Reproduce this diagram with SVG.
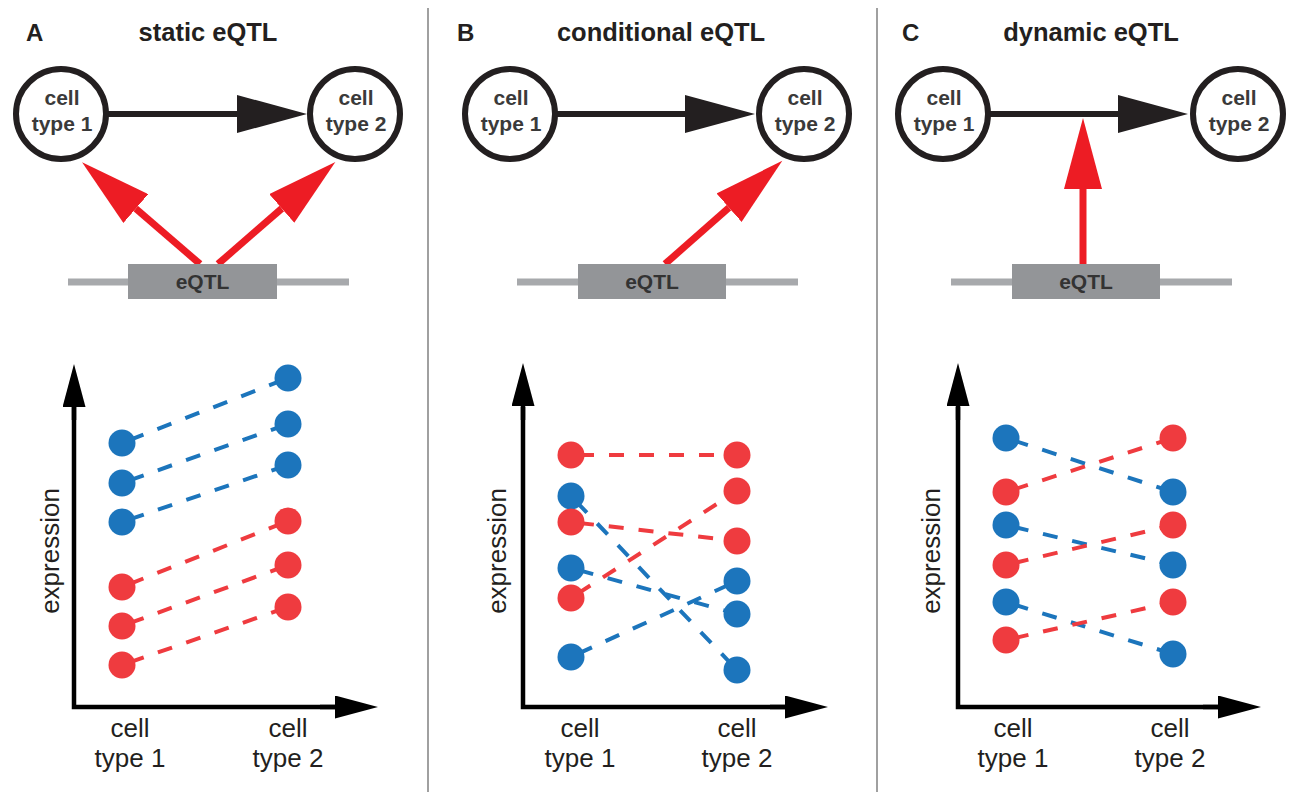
<svg xmlns="http://www.w3.org/2000/svg" width="1301" height="800" viewBox="0 0 1301 800">
<defs>
<style>
.bg{fill:#ffffff}
.title{font-family:"Liberation Sans",Arial,sans-serif;font-weight:bold;font-size:25.5px;fill:#231f20;text-anchor:middle}
.plabel{font-family:"Liberation Sans",Arial,sans-serif;font-weight:bold;font-size:24px;fill:#231f20}
.cell{fill:#ffffff;stroke:#231f20;stroke-width:6}
.ctext{font-family:"Liberation Sans",Arial,sans-serif;font-weight:bold;font-size:21px;fill:#3a3a3a;text-anchor:middle}
.box{fill:#939598}
.gline{stroke:#a7a9ac;stroke-width:7;fill:none}
.btext{font-family:"Liberation Sans",Arial,sans-serif;font-weight:bold;font-size:21px;fill:#333333;text-anchor:middle}
.black{stroke:#231f20;stroke-width:6;fill:none;marker-end:url(#ahBlack)}
.red{stroke:#ed1c24;stroke-width:7;fill:none;marker-end:url(#ahRed)}
.axis{stroke:#000000;stroke-width:4.5;fill:none;stroke-linejoin:miter;stroke-linecap:square}
.axtext{font-family:"Liberation Sans",Arial,sans-serif;font-size:26px;fill:#231f20;text-anchor:middle}
.db{stroke:#1c75bc;stroke-width:4;stroke-dasharray:15 15;stroke-dashoffset:22;fill:none}
.dr{stroke:#ef3b3f;stroke-width:4;stroke-dasharray:15 15;stroke-dashoffset:22;fill:none}
.pb{fill:#1c75bc}
.pr{fill:#ef3b3f}
.divider{stroke:#808080;stroke-width:1.5}
</style>
<marker id="ahBlack" markerUnits="userSpaceOnUse" markerWidth="70" markerHeight="38" refX="0" refY="19" orient="auto"><path d="M0,0 L70,19 L0,38 z" fill="#231f20"/></marker>
<marker id="ahRed" markerUnits="userSpaceOnUse" markerWidth="72" markerHeight="38" refX="0" refY="19" orient="auto"><path d="M0,0 L71,19 L0,38 z" fill="#ed1c24"/></marker>
<marker id="ahAxis" markerUnits="userSpaceOnUse" markerWidth="43" markerHeight="23" refX="0" refY="11.5" orient="auto"><path d="M0,0 L43,11.5 L0,23 z" fill="#000000"/></marker>
</defs>
<rect class="bg" x="0" y="0" width="1301" height="800"/>

<g id="dividers">
<line class="divider" x1="428" y1="8" x2="428" y2="792"/>
<line class="divider" x1="877" y1="8" x2="877" y2="792"/>
</g>

<g id="titles">
<text class="plabel" x="26" y="41">A</text>
<text class="title" x="208" y="41">static eQTL</text>
<text class="plabel" x="457" y="41">B</text>
<text class="title" x="661" y="41">conditional eQTL</text>
<text class="plabel" x="902" y="41">C</text>
<text class="title" x="1091" y="41">dynamic eQTL</text>
</g>

<g id="connectors">
<line class="black" x1="108" y1="114" x2="237" y2="114"/>
<line class="black" x1="557" y1="114" x2="685" y2="114"/>
<line class="black" x1="990" y1="114" x2="1118" y2="114"/>
<line class="red" x1="200" y1="264" x2="135.8" y2="208.6"/>
<line class="red" x1="218" y1="264" x2="281.8" y2="208.5"/>
<line class="red" x1="665" y1="264" x2="729" y2="207.7"/>
<line class="red" x1="1083" y1="264" x2="1083" y2="189"/>
</g>

<g id="A-cell1"><circle class="cell" cx="61" cy="114" r="45"/><text class="ctext" x="62" y="105">cell</text><text class="ctext" x="62" y="131">type 1</text></g>
<g id="A-cell2"><circle class="cell" cx="355" cy="114" r="45"/><text class="ctext" x="356" y="105">cell</text><text class="ctext" x="356" y="131">type 2</text></g>
<g id="B-cell1"><circle class="cell" cx="510" cy="114" r="45"/><text class="ctext" x="511" y="105">cell</text><text class="ctext" x="511" y="131">type 1</text></g>
<g id="B-cell2"><circle class="cell" cx="804" cy="114" r="45"/><text class="ctext" x="805" y="105">cell</text><text class="ctext" x="805" y="131">type 2</text></g>
<g id="C-cell1"><circle class="cell" cx="943" cy="114" r="45"/><text class="ctext" x="944" y="105">cell</text><text class="ctext" x="944" y="131">type 1</text></g>
<g id="C-cell2"><circle class="cell" cx="1238" cy="114" r="45"/><text class="ctext" x="1239" y="105">cell</text><text class="ctext" x="1239" y="131">type 2</text></g>

<g id="A-eqtl"><line class="gline" x1="68" y1="282" x2="349" y2="282"/><rect class="box" x="128" y="264" width="149" height="35"/><text class="btext" x="202.5" y="289">eQTL</text></g>
<g id="B-eqtl"><line class="gline" x1="517" y1="282" x2="798" y2="282"/><rect class="box" x="578" y="264" width="148" height="35"/><text class="btext" x="652" y="289">eQTL</text></g>
<g id="C-eqtl"><line class="gline" x1="951" y1="282" x2="1232" y2="282"/><rect class="box" x="1012" y="264" width="148" height="35"/><text class="btext" x="1086" y="289">eQTL</text></g>

<g id="A-plot">
<path class="axis" d="M74,407 L74,707 L335,707" style="stroke-linecap:butt"/>
<line x1="74" y1="420" x2="74" y2="407" stroke="#000" stroke-width="4.5" marker-end="url(#ahAxis)"/>
<line x1="320" y1="707" x2="335" y2="707" stroke="#000" stroke-width="4.5" marker-end="url(#ahAxis)"/>
<text class="axtext" transform="translate(59,551) rotate(-90)">expression</text>
<text class="axtext" x="130" y="737">cell</text><text class="axtext" x="130" y="767">type 1</text>
<text class="axtext" x="288" y="737">cell</text><text class="axtext" x="288" y="767">type 2</text>
<line class="db" x1="122" y1="443" x2="288" y2="378"/>
<line class="db" x1="122" y1="483" x2="288" y2="424"/>
<line class="db" x1="122" y1="522" x2="288" y2="465"/>
<line class="dr" x1="122" y1="587" x2="288" y2="521"/>
<line class="dr" x1="122" y1="626" x2="288" y2="565"/>
<line class="dr" x1="122" y1="665" x2="288" y2="607"/>
<circle class="pb" cx="122" cy="443" r="13.5"/><circle class="pb" cx="122" cy="483" r="13.5"/><circle class="pb" cx="122" cy="522" r="13.5"/>
<circle class="pr" cx="122" cy="587" r="13.5"/><circle class="pr" cx="122" cy="626" r="13.5"/><circle class="pr" cx="122" cy="665" r="13.5"/>
<circle class="pb" cx="288" cy="378" r="13.5"/><circle class="pb" cx="288" cy="424" r="13.5"/><circle class="pb" cx="288" cy="465" r="13.5"/>
<circle class="pr" cx="288" cy="521" r="13.5"/><circle class="pr" cx="288" cy="565" r="13.5"/><circle class="pr" cx="288" cy="607" r="13.5"/>
</g>

<g id="B-plot">
<path class="axis" d="M523,407 L523,707 L785,707" style="stroke-linecap:butt"/>
<line x1="523" y1="420" x2="523" y2="406" stroke="#000" stroke-width="4.5" marker-end="url(#ahAxis)"/>
<line x1="770" y1="707" x2="785" y2="707" stroke="#000" stroke-width="4.5" marker-end="url(#ahAxis)"/>
<text class="axtext" transform="translate(506,551) rotate(-90)">expression</text>
<text class="axtext" x="580" y="737">cell</text><text class="axtext" x="580" y="767">type 1</text>
<text class="axtext" x="737" y="737">cell</text><text class="axtext" x="737" y="767">type 2</text>
<line class="dr" x1="571" y1="455" x2="737" y2="455"/>
<line class="db" x1="571" y1="496" x2="737" y2="670"/>
<line class="dr" x1="571" y1="522" x2="737" y2="541"/>
<line class="db" x1="571" y1="568" x2="737" y2="614"/>
<line class="dr" x1="571" y1="598" x2="737" y2="491"/>
<line class="db" x1="571" y1="657" x2="737" y2="581"/>
<circle class="pr" cx="571" cy="455" r="13.5"/><circle class="pb" cx="571" cy="496" r="13.5"/><circle class="pr" cx="571" cy="522" r="13.5"/>
<circle class="pb" cx="571" cy="568" r="13.5"/><circle class="pr" cx="571" cy="598" r="13.5"/><circle class="pb" cx="571" cy="657" r="13.5"/>
<circle class="pr" cx="737" cy="455" r="13.5"/><circle class="pr" cx="737" cy="491" r="13.5"/><circle class="pr" cx="737" cy="541" r="13.5"/>
<circle class="pb" cx="737" cy="581" r="13.5"/><circle class="pb" cx="737" cy="614" r="13.5"/><circle class="pb" cx="737" cy="670" r="13.5"/>
</g>

<g id="C-plot">
<path class="axis" d="M958,407 L958,707 L1218,707" style="stroke-linecap:butt"/>
<line x1="958" y1="420" x2="958" y2="406" stroke="#000" stroke-width="4.5" marker-end="url(#ahAxis)"/>
<line x1="1203" y1="707" x2="1218" y2="707" stroke="#000" stroke-width="4.5" marker-end="url(#ahAxis)"/>
<text class="axtext" transform="translate(940,551) rotate(-90)">expression</text>
<text class="axtext" x="1013" y="737">cell</text><text class="axtext" x="1013" y="767">type 1</text>
<text class="axtext" x="1170" y="737">cell</text><text class="axtext" x="1170" y="767">type 2</text>
<line class="db" x1="1006" y1="438" x2="1173" y2="492"/>
<line class="dr" x1="1006" y1="492" x2="1173" y2="438"/>
<line class="db" x1="1006" y1="525" x2="1173" y2="565"/>
<line class="dr" x1="1006" y1="565" x2="1173" y2="525"/>
<line class="db" x1="1006" y1="602" x2="1173" y2="654"/>
<line class="dr" x1="1006" y1="640" x2="1173" y2="602"/>
<circle class="pb" cx="1006" cy="438" r="13.5"/><circle class="pr" cx="1006" cy="492" r="13.5"/><circle class="pb" cx="1006" cy="525" r="13.5"/>
<circle class="pr" cx="1006" cy="565" r="13.5"/><circle class="pb" cx="1006" cy="602" r="13.5"/><circle class="pr" cx="1006" cy="640" r="13.5"/>
<circle class="pr" cx="1173" cy="438" r="13.5"/><circle class="pb" cx="1173" cy="492" r="13.5"/><circle class="pr" cx="1173" cy="525" r="13.5"/>
<circle class="pb" cx="1173" cy="565" r="13.5"/><circle class="pr" cx="1173" cy="602" r="13.5"/><circle class="pb" cx="1173" cy="654" r="13.5"/>
</g>
</svg>
